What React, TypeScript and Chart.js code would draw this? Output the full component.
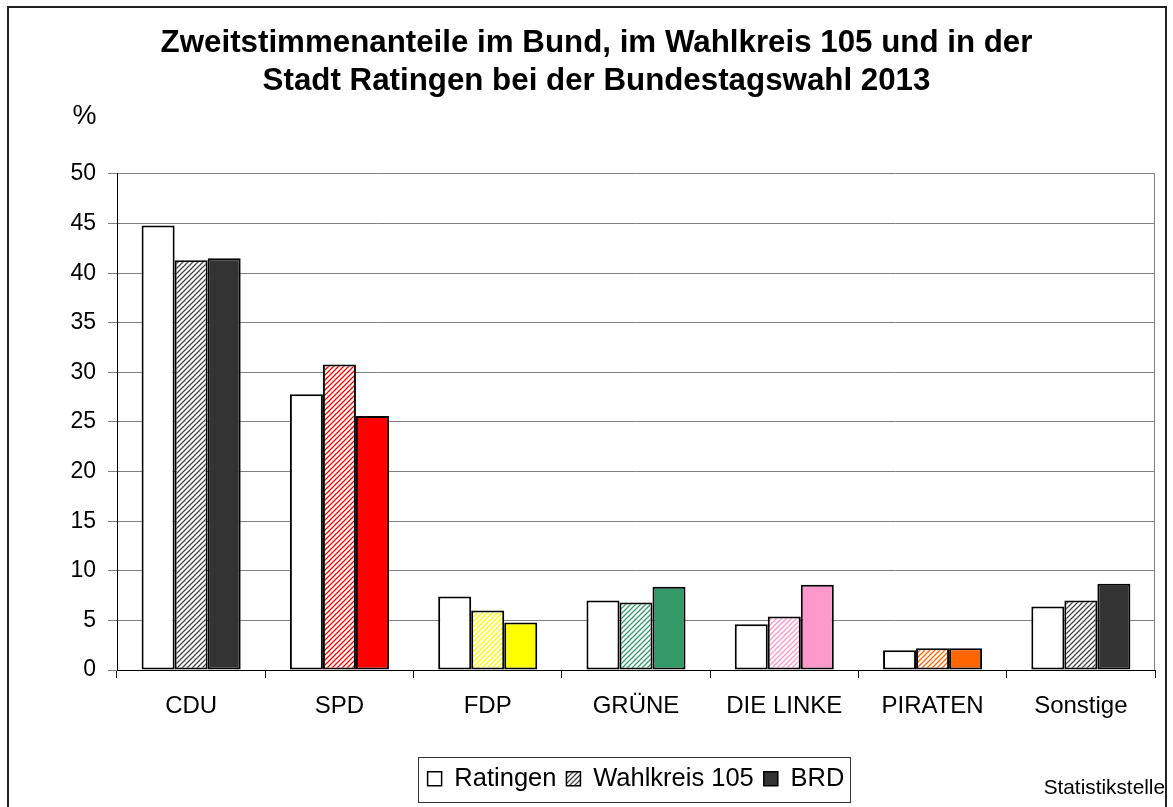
import { useEffect, useRef } from "react";
import { Chart, registerables } from "chart.js";

Chart.register(...registerables);

const categories = ["CDU", "SPD", "FDP", "GRÜNE", "DIE LINKE", "PIRATEN", "Sonstige"];
const ratingen = [44.8, 27.8, 7.4, 7.0, 4.6, 2.0, 6.4];
const wahlkreis = [41.3, 30.8, 6.0, 6.8, 5.4, 2.2, 7.0];
const brd = [41.5, 25.6, 4.8, 8.4, 8.6, 2.2, 8.7];
const partyColors = ["#333333", "#FF0000", "#FFFF00", "#339966", "#FF99CC", "#FF6600", "#333333"];
const hatchColors = ["#444444", "#FF0000", "#FFFF00", "#339966", "#FF99CC", "#FF6600", "#444444"];
const seriesNames = ["Ratingen", "Wahlkreis 105", "BRD"];
const titleLines = [
  "Zweitstimmenanteile im Bund, im Wahlkreis 105 und in der",
  "Stadt Ratingen bei der Bundestagswahl 2013",
];
const yUnit = "%";
const sourceNote = "Statistikstelle";
const yMin = 0;
const yMax = 50;
const yStep = 5;

const FONT = "'Liberation Sans', Arial, Helvetica, sans-serif";

function hatch(color: string): CanvasPattern {
  const s = 5;
  const c = document.createElement("canvas");
  c.width = s;
  c.height = s;
  const g = c.getContext("2d")!;
  g.fillStyle = "#ffffff";
  g.fillRect(0, 0, s, s);
  g.strokeStyle = color;
  g.lineWidth = 1.25;
  g.beginPath();
  g.moveTo(-1, s + 1);
  g.lineTo(s + 1, -1);
  g.moveTo(-s / 2 - 1, s / 2 + 1);
  g.lineTo(s / 2 + 1, -s / 2 - 1);
  g.moveTo(s / 2 - 1, s * 1.5 + 1);
  g.lineTo(s * 1.5 + 1, s / 2 - 1);
  g.stroke();
  return g.createPattern(c, "repeat")!;
}

const decorPlugin = {
  id: "decor",
  beforeDraw(chart: any) {
    const ctx = chart.ctx;
    ctx.save();
    ctx.fillStyle = "#ffffff";
    ctx.fillRect(0, 0, chart.width, chart.height);
    ctx.restore();
  },
  beforeDatasetsDraw(chart: any) {
    const { ctx, chartArea } = chart;
    ctx.save();
    ctx.strokeStyle = "#808080";
    ctx.lineWidth = 1;
    ctx.beginPath();
    ctx.moveTo(Math.round(chartArea.right) - 0.5, chartArea.top);
    ctx.lineTo(Math.round(chartArea.right) - 0.5, chartArea.bottom);
    ctx.stroke();
    ctx.restore();
  },
  afterDraw(chart: any) {
    const { ctx } = chart;
    ctx.save();
    ctx.fillStyle = "#000";
    ctx.font = `27px ${FONT}`;
    ctx.textAlign = "center";
    ctx.textBaseline = "alphabetic";
    ctx.fillText(yUnit, 84.5, 124);
    ctx.font = `20.8px ${FONT}`;
    ctx.textAlign = "right";
    ctx.fillText(sourceNote, 1165, 794);
    const boxes = chart.legend?.legendHitBoxes || [];
    if (boxes.length) {
      let l = Infinity, r = -Infinity;
      for (const h of boxes) {
        l = Math.min(l, h.left);
        r = Math.max(r, h.left + h.width);
      }
      ctx.strokeStyle = "#333";
      ctx.lineWidth = 1;
      ctx.strokeRect(Math.round(l - 10) + 0.5, 757.5, Math.round(r - l + 15), 45);
    }
    ctx.strokeStyle = "#222";
    ctx.lineWidth = 2;
    ctx.strokeRect(8, 7, 1158, 830);
    ctx.restore();
  },
};

export default function App() {
  const ref = useRef<HTMLCanvasElement>(null);

  useEffect(() => {
    const canvas = ref.current!;
    const wkFill = hatchColors.map((c) => hatch(c));
    const legendHatch = hatch("#444444");

    const chart = new Chart(canvas, {
      type: "bar",
      data: {
        labels: categories,
        datasets: [
          { label: seriesNames[0], data: ratingen, backgroundColor: "#ffffff" },
          { label: seriesNames[1], data: wahlkreis, backgroundColor: wkFill as any },
          { label: seriesNames[2], data: brd, backgroundColor: partyColors },
        ],
      },
      options: {
        animation: false,
        responsive: false,
        devicePixelRatio: 1,
        layout: { padding: { left: 38, right: 18, top: 0, bottom: 5.5 } },
        datasets: {
          bar: {
            borderColor: "#000000",
            borderWidth: 2,
            borderSkipped: false,
            categoryPercentage: 0.668,
            barPercentage: 1.0,
          },
        },
        scales: {
          x: {
            offset: true,
            grid: {
              display: true,
              drawOnChartArea: false,
              drawTicks: true,
              tickLength: 8,
              color: "#000",
              offset: true,
            },
            border: { color: "#000", width: 1 },
            ticks: {
              color: "#000",
              font: { family: FONT, size: 24 },
              padding: 13.5,
              maxRotation: 0,
              autoSkip: false,
            },
            afterFit(scale: any) {
              scale.height = 86;
            },
          },
          y: {
            min: yMin,
            max: yMax,
            grid: {
              color: "#808080",
              lineWidth: 1,
              tickLength: 9,
            },
            border: { color: "#000", width: 1 },
            ticks: {
              stepSize: yStep,
              color: "#000",
              font: { family: FONT, size: 23 },
              padding: 12,
            },
            afterFit(scale: any) {
              scale.width = 79;
            },
          },
        },
        plugins: {
          title: {
            display: true,
            text: titleLines,
            color: "#000",
            font: { family: FONT, size: 31.3, weight: "bold", lineHeight: 1.214 },
            padding: { top: 24, bottom: 74 },
          },
          legend: {
            display: true,
            position: "bottom",
            fullSize: false,
            labels: {
              color: "#000",
              font: { family: FONT, size: 25.5 },
              boxWidth: 14,
              boxHeight: 14,
              padding: 10,
              generateLabels() {
                return [
                  { text: seriesNames[0], fillStyle: "#ffffff", strokeStyle: "#000", lineWidth: 1.5, datasetIndex: 0, hidden: false, fontColor: "#000" },
                  { text: seriesNames[1], fillStyle: legendHatch as any, strokeStyle: "#000", lineWidth: 1.5, datasetIndex: 1, hidden: false, fontColor: "#000" },
                  { text: seriesNames[2], fillStyle: "#333333", strokeStyle: "#000", lineWidth: 1.5, datasetIndex: 2, hidden: false, fontColor: "#000" },
                ];
              },
            },
          },
          tooltip: { enabled: false },
        },
      },
      plugins: [decorPlugin],
    });
    return () => chart.destroy();
  }, []);

  return (
    <div style={{ position: "fixed", left: 0, top: 0, width: 1173, height: 807 }}>
      <canvas ref={ref} width={1173} height={807} style={{ display: "block" }} />
    </div>
  );
}
